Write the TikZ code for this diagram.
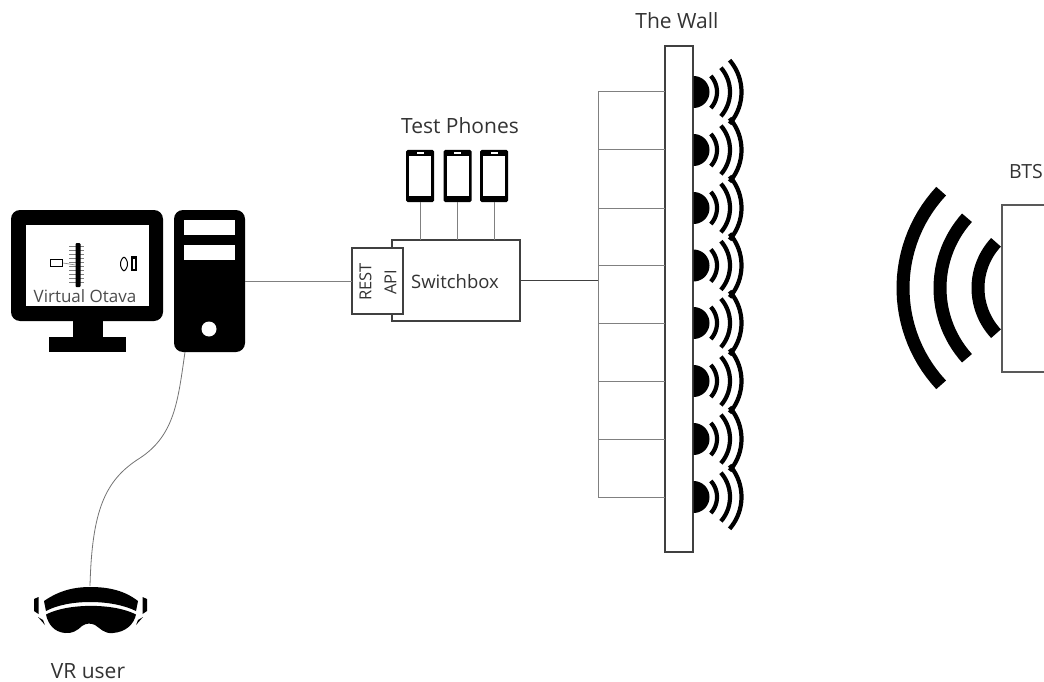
\documentclass[tikz,border=0pt]{standalone}
\usepackage{fontspec}
\setmainfont{Open Sans}
\newcommand{\fs}[1]{\fontsize{#1}{#1}\selectfont}
\tikzset{
  x=1pt,y=-1pt,
  thinline/.style={draw=black!50,line width=1pt},
  frame/.style={draw=black!75,line width=1.6pt,fill=white,inner sep=0pt,outer sep=0pt},
  solid box/.style={fill=black,rounded corners=9pt,inner sep=0pt,outer sep=0pt},
  label/.style={inner sep=0pt,text=black!80,font=\fs{21}},
  wave/.style={line width=4.2pt,line cap=butt},
  btswave/.style={line width=13pt,line cap=butt},
  phonebox/.style={fill=black,rounded corners=1.5pt,minimum width=28pt,minimum height=52pt,inner sep=0pt,outer sep=0pt},
}
\begin{document}
\begin{tikzpicture}
\useasboundingbox (0,0) rectangle (1044,682);
% Monitor
\node[solid box,minimum width=152pt,minimum height=111pt] (monitor) at (87,265.5) {};
\node[fill=white,minimum width=123pt,minimum height=81pt,inner sep=0pt] (screen) at (87.5,265.5) {};
\fill (73,320) rectangle (103,338);
\fill (49,337) rectangle (126,352);
\node[inner sep=0pt,text=black!70,font=\fs{17}] (vo) at (85,296) {Virtual Otava};
% Mini scene on screen
\node[draw=black,line width=1.5pt,fill=white,minimum width=12pt,minimum height=7pt,inner sep=0pt] (miniuser) at (56.5,263) {};
\foreach \yy in {246,250,...,284}{\draw[black!50,line width=.7pt] (69,\yy) -- (84,\yy);}
\node[fill=black,minimum width=5pt,minimum height=44pt,inner sep=0pt,rounded corners=1pt] (miniwall) at (78,265) {};
\draw[black!50,line width=.6pt] (miniuser.east) -- (miniwall.west);
\fill (131,256) rectangle (137,271);
\fill[white] (133,258.5) rectangle (135,268.5);
\draw[line width=1pt] plot[domain=-60:60,samples=15] ({120.5+7*cos(\x)},{264+8*sin(\x)});
\draw[line width=1pt] plot[domain=-60:60,samples=15] ({127.5+-7*cos(\x)},{264+8*sin(\x)});
% Tower
\node[solid box,minimum width=71pt,minimum height=142pt] (tower) at (209.5,281) {};
\fill[white] (184,220) rectangle (235,235);
\fill[white] (184,245) rectangle (235,260);
\fill[white] (209,329) circle (7.5);
% Switchbox
\node[frame,minimum width=128pt,minimum height=81pt] (switchbox) at (456,280.5) {};
\node[frame,minimum width=51pt,minimum height=66pt] (rest) at (377.5,281) {};
\node[label,rotate=90,font=\fs{16.5}] (resttext) at (365.5,282) {REST};
\node[label,rotate=90,font=\fs{16.5}] (apitext) at (390.5,282) {API};
\node[label,font=\fs{18.5}] (swtext) at (455,282) {Switchbox};
\node[label] (tptext) at (460,126) {Test Phones};
% Phones
\foreach \n/\cx in {1/420,2/457.5,3/494}{
  \node[phonebox] (phone\n) at (\cx,176) {};
  \fill[white] (\cx-11,156) rectangle (\cx+11,196);
  \fill[white] (\cx-3.5,152.2) rectangle (\cx+3.5,154.2);
  \coordinate (sb\n) at (\cx,240);
  \draw[thinline] (phone\n.south) -- (sb\n);
}
% Connectors
\draw[thinline] (tower.east) -- (rest.west);
\coordinate (bustop) at (598,92);
\coordinate (busbot) at (598,497);
\coordinate (busmid) at (598,280.5);
\draw[black!75,line width=1.3pt] (switchbox.east) -- (busmid);
\draw[thinline] (bustop) -- (busbot);
% Wall
\node[frame,minimum width=28pt,minimum height=506pt] (wall) at (679,299) {};
\node[label] (walltext) at (677,21) {The Wall};
\foreach \cy in {92,150,208,265.5,323,381,439,497}{
  \coordinate (tapl) at (598,\cy);
  \coordinate (tapr) at (wall.west|-tapl);
  \draw[thinline] (tapl) -- (tapr);
  \fill plot[domain=-90:90,samples=25] ({693.5+16*cos(\x)},{\cy+16*sin(\x)}) -- cycle;
  \draw[wave] plot[domain=-42:42,samples=20] ({693+24*cos(\x)},{\cy+24*sin(\x)});
  \draw[wave] plot[domain=-41:41,samples=20] ({693+37*cos(\x)},{\cy+37*sin(\x)});
  \draw[wave] plot[domain=-41:41,samples=20] ({693+48.5*cos(\x)},{\cy+48.5*sin(\x)});
}
% BTS
\node[label,anchor=west,font=\fs{19.5}] (btstext) at (1009,172) {BTS};
\draw[btswave] plot[domain=137:223,samples=30] ({1045+67*cos(\x)},{288+67*sin(\x)});
\draw[btswave] plot[domain=138:222,samples=30] ({1045+105*cos(\x)},{288+105*sin(\x)});
\draw[btswave] plot[domain=137:223,samples=30] ({1045+142*cos(\x)},{288+142*sin(\x)});
\coordinate (btsa) at (1044,205);
\coordinate (btsb) at (1044,372);
\draw[draw=black!65,line width=1.6pt] (btsa) -- (1002,205) -- (1002,372) -- (btsb);
% Goggles
\coordinate (goggles) at (90,586);
\draw[thinline,draw=black!55,line width=.8pt] (tower.south west) ++(11,0) .. controls (178,400) and (175,435) .. (140,458)
  .. controls (105,480) and (92,510) .. (goggles);
\fill (44,601) .. controls (60,590) and (75,587) .. (90,587) .. controls (110,587) and (125,591) .. (138,601)
  -- (136,611) .. controls (112,599) and (68,599) .. (46,611) -- cycle;
\fill (46,614.5) .. controls (68,603) and (114,603) .. (136,614.5) .. controls (134,624) and (126,632) .. (113,633)
  .. controls (104,634) and (100,628) .. (95,625) .. controls (91,623) and (86,623) .. (82,626)
  .. controls (78,630) and (72,634) .. (65,633) .. controls (54,632) and (48,624) .. (46,614.5) -- cycle;
\fill (34,599) -- (38.5,597) -- (38.5,614) -- (34,611) -- cycle;
\fill (142.5,597) -- (147,599) -- (147,611) -- (142.5,614) -- cycle;
\fill (38,617) -- (43,620) -- (45,625) -- cycle;
\fill (143,617) -- (138,620) -- (136,625) -- cycle;
\node[label] (vrtext) at (88,671) {VR user};
\end{tikzpicture}
\end{document}
